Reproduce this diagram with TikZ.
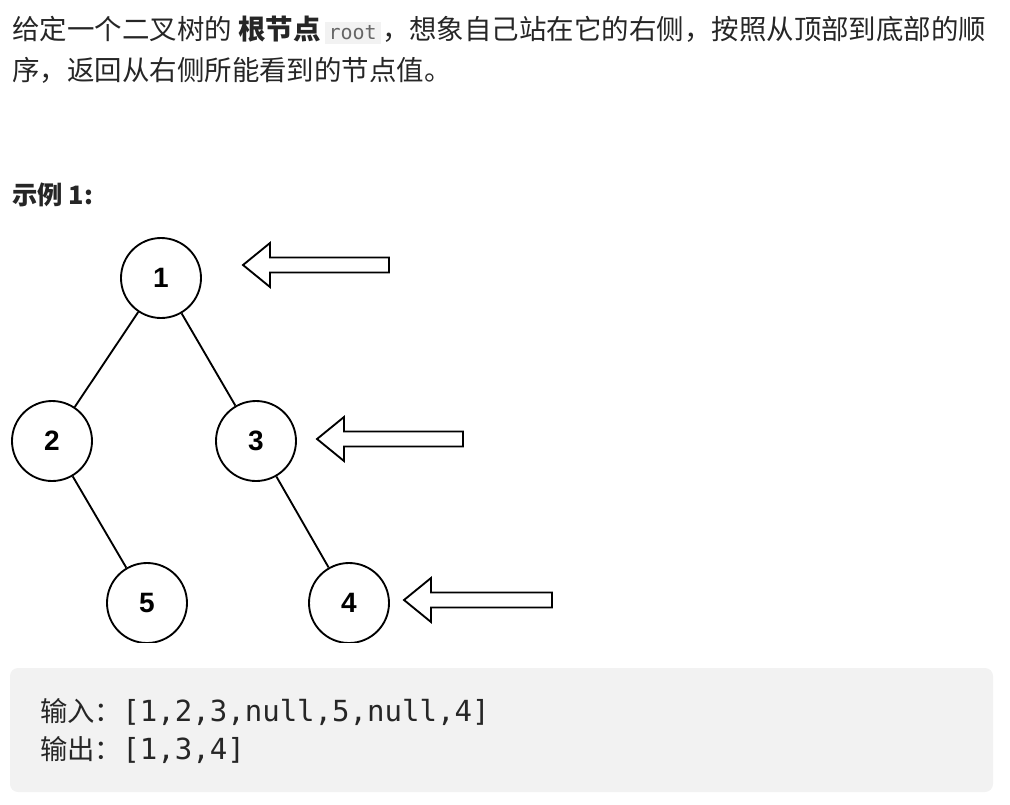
\documentclass[tikz,border=0pt]{standalone}
\usepackage{fontspec}
\setmainfont{Liberation Sans}
\newfontfamily\cjk{Noto Sans CJK SC}
\newfontfamily\codefont{DejaVu Sans Mono}
\usetikzlibrary{positioning}

\begin{document}
\begin{tikzpicture}[x=0.75pt,y=-0.75pt,
  treenode/.style={circle,draw,line width=1.4pt,minimum size=80*0.75pt,inner sep=0pt,font=\fontsize{21}{24}\selectfont\bfseries},
  edge/.style={line width=1.4pt},
  lookarrow/.style={draw,line width=1.4pt,fill=white,line join=miter},
  txt/.style={anchor=west,inner sep=0pt,font=\cjk\fontsize{20.6}{24}\selectfont,text=black!85}]
\useasboundingbox (0,0) rectangle (1010,804);
% problem text
\node[txt] (line1) at (12,30) {给定一个二叉树的 \textbf{根节点}\hspace{3pt}\colorbox{black!5}{\codefont\fontsize{15}{17}\selectfont\color{black!60}root}\hspace{1pt}，想象自己站在它的右侧，按照从顶部到底部的顺};
\node[txt] (line2) at (12,70) {序，返回从右侧所能看到的节点值。};
\node[txt,font=\cjk\bfseries\fontsize{19}{22}\selectfont] (title) at (12,195) {示例 1:};
% tree
\begin{scope}
\clip (0,230) rectangle (600,642);
\node[treenode] (n1) at (161,278) {1};
\node[treenode] (n2) at (52,441) {2};
\node[treenode] (n3) at (256,441) {3};
\node[treenode] (n5) at (147,603) {5};
\node[treenode] (n4) at (349,603) {4};
\draw[edge] (n1) -- (n2);
\draw[edge] (n1) -- (n3);
\draw[edge] (n2) -- (n5);
\draw[edge] (n3) -- (n4);
\end{scope}
% view arrows
\foreach \tip/\yy/\tail in {243/265/389, 317/439/463, 404/600/552}{
  \draw[lookarrow] (\tip,\yy) -- (\tip+27,\yy-22) -- (\tip+27,\yy-7.5) -- (\tail,\yy-7.5)
    -- (\tail,\yy+7.5) -- (\tip+27,\yy+7.5) -- (\tip+27,\yy+22) -- cycle;
}
% example box
\fill[black!5,rounded corners=6pt] (10,668) rectangle (993,792);
\node[txt,font=\cjk\fontsize{20.5}{24}\selectfont] (inp) at (40,712) {输入：{\codefont\fontsize{21.8}{24}\selectfont[1,2,3,null,5,null,4]}};
\node[txt,font=\cjk\fontsize{20.5}{24}\selectfont] (outp) at (40,750) {输出：{\codefont\fontsize{21.8}{24}\selectfont[1,3,4]}};
\end{tikzpicture}
\end{document}
